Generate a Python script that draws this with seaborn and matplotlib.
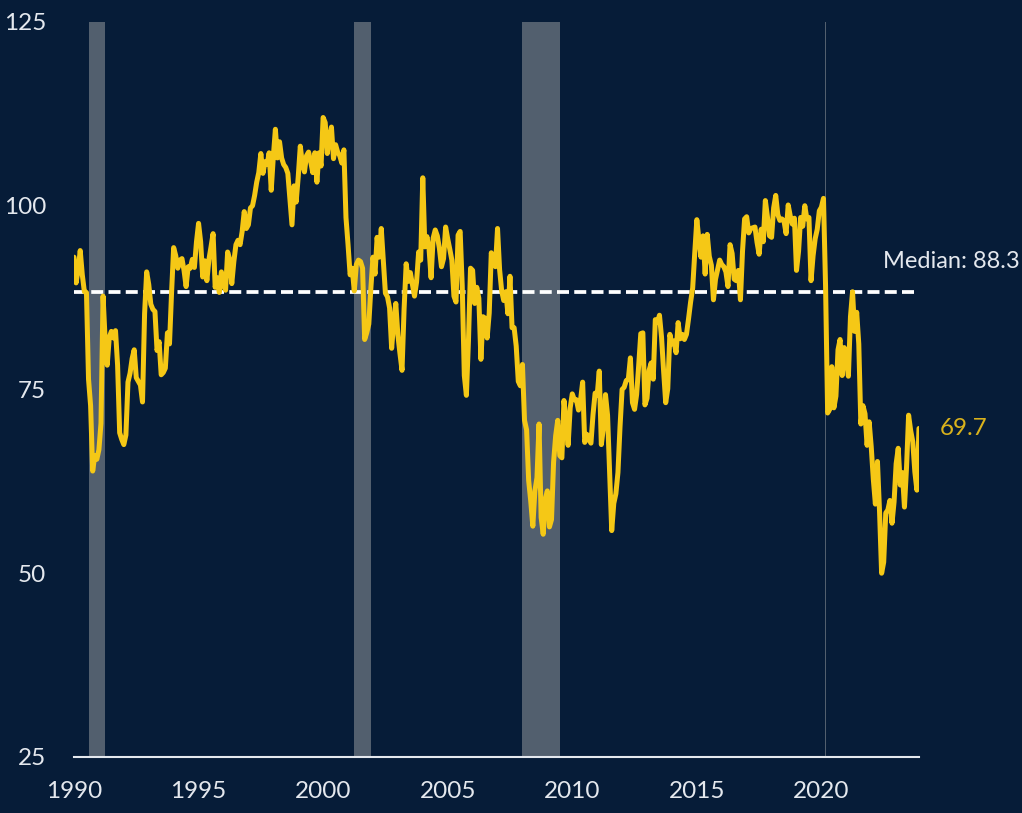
import numpy as np
import pandas as pd
import matplotlib
matplotlib.use("Agg")
import matplotlib.pyplot as plt
import seaborn as sns

# monthly index values, Jan 1990 .. Dec 2023
start_year = 1990
sentiment = [
    93.0, 89.5, 91.3, 93.9, 90.6, 88.3, 88.2, 76.4, 72.8, 63.9, 66.0, 65.5,   # 1990
    66.8, 70.4, 87.7, 81.8, 78.3, 82.1, 82.9, 82.0, 83.0, 78.3, 69.1, 68.2,   # 1991
    67.5, 68.8, 76.0, 77.2, 79.2, 80.4, 76.6, 76.1, 75.6, 73.3, 85.3, 91.0,   # 1992
    89.3, 86.6, 85.9, 85.6, 80.3, 81.5, 77.0, 77.3, 77.9, 82.7, 81.2, 88.2,   # 1993
    94.3, 93.2, 91.5, 92.6, 92.8, 91.2, 89.0, 91.7, 91.5, 92.7, 91.6, 95.1,   # 1994
    97.6, 95.1, 90.3, 92.5, 89.8, 92.7, 94.4, 96.2, 88.9, 90.2, 88.2, 91.0,   # 1995
    89.3, 88.5, 93.7, 92.7, 89.4, 92.4, 94.7, 95.3, 94.7, 96.5, 99.2, 96.9,   # 1996
    97.4, 99.7, 100.0, 101.4, 103.2, 104.5, 107.1, 104.4, 106.0, 105.6, 107.2, 102.1,  # 1997
    106.6, 110.4, 106.5, 108.7, 106.5, 105.6, 105.2, 104.4, 100.9, 97.4, 102.7, 100.5,  # 1998
    103.9, 108.1, 105.7, 104.6, 106.8, 107.3, 106.0, 104.5, 107.2, 103.2, 107.2, 105.4,  # 1999
    112.0, 111.3, 107.1, 109.2, 110.7, 106.4, 108.3, 107.3, 106.8, 105.8, 107.6, 98.4,  # 2000
    94.7, 90.6, 91.5, 88.4, 92.0, 92.6, 92.4, 91.5, 81.8, 82.7, 83.9, 88.8,   # 2001
    93.0, 90.7, 95.7, 93.0, 96.9, 92.4, 88.1, 87.6, 86.1, 80.6, 84.2, 86.7,   # 2002
    82.4, 79.9, 77.6, 86.0, 92.1, 89.7, 90.9, 89.3, 87.7, 89.6, 93.7, 92.6,   # 2003
    103.8, 94.4, 95.8, 94.2, 90.2, 95.6, 96.7, 95.9, 94.2, 91.7, 92.8, 97.1,  # 2004
    95.5, 94.1, 92.6, 87.7, 86.9, 96.0, 96.5, 89.1, 76.9, 74.2, 81.6, 91.5,   # 2005
    91.2, 86.7, 88.9, 87.4, 79.1, 84.9, 84.7, 82.0, 85.4, 93.6, 92.1, 91.7,   # 2006
    96.9, 91.3, 88.4, 87.1, 88.3, 85.3, 90.4, 83.4, 83.4, 80.9, 76.1, 75.5,   # 2007
    78.4, 70.8, 69.5, 62.6, 59.8, 56.4, 61.2, 63.0, 70.3, 57.6, 55.3, 60.1,   # 2008
    61.2, 56.3, 57.3, 65.1, 68.7, 70.8, 66.0, 65.7, 73.5, 70.6, 67.4, 72.5,   # 2009
    74.4, 73.6, 73.6, 72.2, 73.6, 76.0, 67.8, 68.9, 68.2, 67.7, 71.6, 74.5,   # 2010
    74.2, 77.5, 67.5, 69.8, 74.3, 71.5, 63.7, 55.8, 59.5, 60.8, 63.7, 69.9,   # 2011
    75.0, 75.3, 76.2, 76.4, 79.3, 73.2, 72.3, 74.3, 78.3, 82.6, 82.7, 72.9,   # 2012
    73.8, 77.6, 78.6, 76.4, 84.5, 84.1, 85.1, 82.1, 77.5, 73.2, 75.1, 82.5,   # 2013
    81.2, 81.6, 80.0, 84.1, 81.9, 82.5, 81.8, 82.5, 84.6, 86.9, 88.8, 93.6,   # 2014
    98.1, 95.4, 93.0, 95.9, 90.7, 96.1, 93.1, 91.9, 87.2, 90.0, 91.3, 92.6,   # 2015
    92.0, 91.7, 91.0, 89.0, 94.7, 93.5, 90.0, 89.8, 91.2, 87.2, 93.8, 98.2,   # 2016
    98.5, 96.3, 96.9, 97.0, 97.1, 95.0, 93.4, 96.8, 95.1, 100.7, 98.5, 95.9,  # 2017
    95.7, 99.7, 101.4, 98.8, 98.0, 98.2, 97.9, 96.2, 100.1, 98.6, 97.5, 98.3,  # 2018
    91.2, 93.8, 98.4, 97.2, 100.0, 98.2, 98.4, 89.8, 93.2, 95.5, 96.8, 99.3,  # 2019
    99.8, 101.0, 89.1, 71.8, 72.3, 78.1, 72.5, 74.1, 80.4, 81.8, 76.9, 80.7,  # 2020
    79.0, 76.8, 84.9, 88.3, 82.9, 85.5, 81.2, 70.3, 72.8, 71.7, 67.4, 70.6,   # 2021
    67.2, 62.8, 59.4, 65.2, 58.4, 50.0, 51.5, 58.2, 58.6, 59.9, 56.8, 59.7,   # 2022
    64.9, 67.0, 62.0, 63.7, 59.0, 64.4, 71.5, 69.4, 67.9, 63.8, 61.3, 69.7,   # 2023
]
median_value = 88.3

# recessions (decimal years)
recession_starts = [1990.583, 2001.25, 2008.0, 2020.16]
recession_ends = [1991.25, 2001.917, 2009.5, 2020.2]

xtick_years = [1990, 1995, 2000, 2005, 2010, 2015, 2020]
ytick_vals = [25, 50, 75, 100, 125]

bg = "#061c38"
yellow = "#f5c816"
grey_bar = "#525f6e"
txt = "#e4e8ee"

df = pd.DataFrame({
    "year": start_year + np.arange(len(sentiment)) / 12,
    "value": sentiment,
})

sns.set_style("dark", {"axes.facecolor": bg, "figure.facecolor": bg})
plt.rcParams["font.family"] = ["Lato", "DejaVu Sans"]

fig = plt.figure(figsize=(10.22, 8.13), dpi=100)
ax = fig.add_axes([0.0724, 0.0689, 0.8268, 0.9041])

for s, e in zip(recession_starts, recession_ends):
    ax.axvspan(s, e, color=grey_bar, lw=0, zorder=1)

ax.axhline(median_value, color="white", lw=2.7, ls=(0, (3.2, 1.4)), zorder=2)

sns.lineplot(data=df, x="year", y="value", color=yellow, lw=3.6, ax=ax, zorder=3)

ax.set_xlim(1990, df["year"].iloc[-1])
ax.set_ylim(25, 125)
ax.set_xticks(xtick_years)
ax.set_yticks(ytick_vals)
ax.tick_params(axis="both", length=0, colors=txt, labelsize=17.5)
ax.tick_params(axis="x", pad=17)
ax.tick_params(axis="y", pad=20)
ax.set_xlabel("")
ax.set_ylabel("")
ax.grid(False)

for side in ["top", "right", "left"]:
    ax.spines[side].set_visible(False)
ax.spines["bottom"].set_color(txt)
ax.spines["bottom"].set_linewidth(1.5)

ax.text(2022.48, 91.5, f"Median: {median_value}", color=txt, fontsize=17,
        va="baseline", ha="left", clip_on=False)
ax.annotate(f"{sentiment[-1]}", xy=(df["year"].iloc[-1], sentiment[-1]),
            xytext=(15, 0), textcoords="offset points", color="#d9b21c",
            fontsize=17.5, va="center", ha="left", annotation_clip=False)

fig.savefig("out.png", dpi=100, facecolor=bg)
